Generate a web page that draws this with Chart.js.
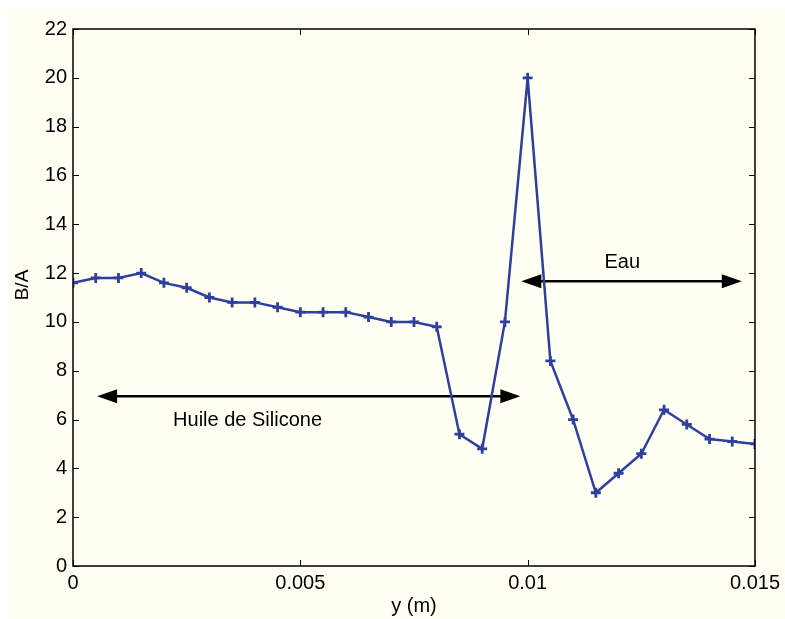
<!DOCTYPE html>
<html>
<head>
<meta charset="utf-8">
<script src="https://cdn.jsdelivr.net/npm/chart.js@4/dist/chart.umd.min.js"></script>
<style>
  html, body { margin: 0; padding: 0; background: #ffffff; }
  #wrap { width: 785px; height: 619px; }
</style>
</head>
<body>
<div id="wrap"><canvas id="chart" width="785" height="619"></canvas></div>
<script>
// Données
const positions = [
  0, 0.0005, 0.001, 0.0015, 0.002, 0.0025, 0.003, 0.0035, 0.004, 0.0045,
  0.005, 0.0055, 0.006, 0.0065, 0.007, 0.0075, 0.008, 0.0085, 0.009, 0.0095,
  0.01, 0.0105, 0.011, 0.0115, 0.012, 0.0125, 0.013, 0.0135, 0.014, 0.0145, 0.015
];
const ratios = [
  11.6, 11.8, 11.8, 12.0, 11.6, 11.4, 11.0, 10.8, 10.8, 10.6,
  10.4, 10.4, 10.4, 10.2, 10.0, 10.0, 9.8, 5.4, 4.8, 10.0,
  20.0, 8.4, 6.0, 3.0, 3.8, 4.6, 6.4, 5.8, 5.2, 5.1, 5.0
];
const xTicks = [0, 0.005, 0.01, 0.015];
const xTickLabels = ["0", "0.005", "0.01", "0.015"];
const yTicks = [0, 2, 4, 6, 8, 10, 12, 14, 16, 18, 20, 22];

// Annotations (flèches + textes), en coordonnées des données
const arrows = [
  { from: 0.00053, to: 0.00984, y: 6.95, label: "Huile de Silicone", lx: 0.00384, ly: 5.95 },
  { from: 0.00986, to: 0.01471, y: 11.67, label: "Eau", lx: 0.01208, ly: 12.45 }
];

const FONT = "'Liberation Sans', Arial, Helvetica, sans-serif";

// Fond crème de la figure
const backgroundPlugin = {
  id: "bg",
  beforeDraw(chart) {
    const ctx = chart.ctx;
    ctx.save();
    ctx.fillStyle = "#fffff3";
    ctx.fillRect(7, 10, chart.width - 7, chart.height - 10);
    ctx.restore();
  }
};

// Cadre, graduations intérieures (style MATLAB) et titres des axes
const boxPlugin = {
  id: "box",
  afterDatasetsDraw(chart) {
    const { ctx, chartArea: a, scales } = chart;
    const len = 6;
    ctx.save();
    ctx.strokeStyle = "#000";
    ctx.lineWidth = 1;
    ctx.beginPath();
    xTicks.forEach((v) => {
      const px = Math.round(scales.x.getPixelForValue(v)) + 0.5;
      ctx.moveTo(px, a.bottom); ctx.lineTo(px, a.bottom - len);
      ctx.moveTo(px, a.top); ctx.lineTo(px, a.top + len);
    });
    yTicks.forEach((v) => {
      const py = Math.round(scales.y.getPixelForValue(v)) + 0.5;
      ctx.moveTo(a.left, py); ctx.lineTo(a.left + len, py);
      ctx.moveTo(a.right, py); ctx.lineTo(a.right - len, py);
    });
    ctx.stroke();
    ctx.lineWidth = 1.5;
    ctx.strokeRect(a.left, a.top, a.right - a.left, a.bottom - a.top);

    // titres des axes
    ctx.fillStyle = "#000";
    ctx.textAlign = "center";
    ctx.textBaseline = "middle";
    ctx.font = "20px " + FONT;
    ctx.fillText("y (m)", (a.left + a.right) / 2, 606);
    ctx.translate(23, 285);
    ctx.rotate(-Math.PI / 2);
    ctx.font = "19px " + FONT;
    ctx.fillText("B/A", 0, 0);
    ctx.restore();
  }
};

function arrowHead(ctx, tipX, y, dir) {
  const hl = 20, hw = 7;
  ctx.beginPath();
  ctx.moveTo(tipX, y);
  ctx.lineTo(tipX - dir * hl, y - hw);
  ctx.lineTo(tipX - dir * hl, y + hw);
  ctx.closePath();
  ctx.fill();
}

const arrowPlugin = {
  id: "arrows",
  beforeDatasetsDraw(chart) {
    const { ctx, scales } = chart;
    ctx.save();
    ctx.strokeStyle = "#000";
    ctx.fillStyle = "#000";
    ctx.lineWidth = 2.5;
    arrows.forEach((ar) => {
      const x1 = scales.x.getPixelForValue(ar.from);
      const x2 = scales.x.getPixelForValue(ar.to);
      const y = scales.y.getPixelForValue(ar.y);
      ctx.beginPath();
      ctx.moveTo(x1 + 15, y);
      ctx.lineTo(x2 - 15, y);
      ctx.stroke();
      arrowHead(ctx, x1, y, -1);
      arrowHead(ctx, x2, y, 1);
      ctx.font = "20px " + FONT;
      ctx.textAlign = "center";
      ctx.textBaseline = "middle";
      ctx.fillText(ar.label, scales.x.getPixelForValue(ar.lx), scales.y.getPixelForValue(ar.ly));
    });
    ctx.restore();
  }
};

const ctx = document.getElementById("chart").getContext("2d");
new Chart(ctx, {
  type: "scatter",
  data: {
    datasets: [
      {
        data: positions.map((x, i) => ({ x: x, y: ratios[i] })),
        showLine: true,
        borderColor: "#2e3f9e",
        borderWidth: 2.5,
        pointStyle: "cross",
        pointRadius: 5,
        pointBorderWidth: 2.8,
        pointBorderColor: "#2e3f9e",
        pointBackgroundColor: "#2e3f9e",
        tension: 0,
      },
    ],
  },
  options: {
    responsive: false,
    animation: false,
    events: [],
    layout: { padding: { left: 0, top: 29, right: 29, bottom: 0 } },
    plugins: {
      legend: { display: false },
      tooltip: { enabled: false },
    },
    scales: {
      x: {
        type: "linear",
        min: 0,
        max: 0.015,
        afterBuildTicks(scale) {
          scale.ticks = xTicks.map((v) => ({ value: v }));
        },
        afterFit(scale) {
          scale.height = 53;
        },
        grid: { display: false, drawTicks: false },
        border: { display: false },
        ticks: {
          color: "#000",
          font: { family: FONT, size: 20 },
          padding: 5,
          maxRotation: 0,
          callback: (v) => xTickLabels[xTicks.indexOf(v)] ?? "",
        },
      },
      y: {
        min: 0,
        max: 22,
        afterBuildTicks(scale) {
          scale.ticks = yTicks.map((v) => ({ value: v }));
        },
        afterFit(scale) {
          scale.width = 73;
        },
        grid: { display: false, drawTicks: false },
        border: { display: false },
        ticks: {
          color: "#000",
          font: { family: FONT, size: 20 },
          padding: 6,
        },
      },
    },
  },
  plugins: [backgroundPlugin, arrowPlugin, boxPlugin],
});
</script>
</body>
</html>
